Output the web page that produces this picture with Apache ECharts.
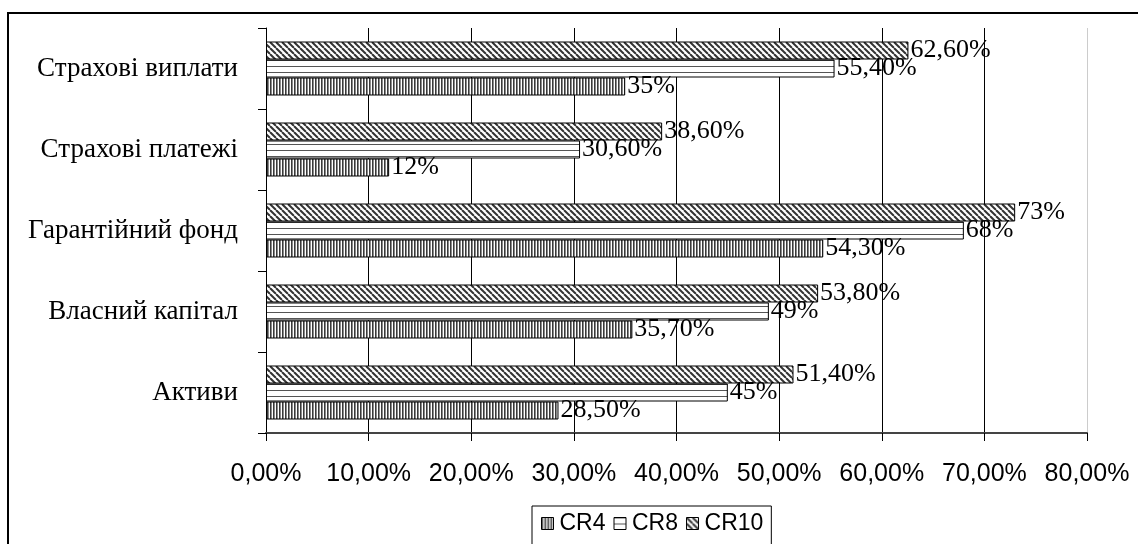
<!DOCTYPE html>
<html>
<head>
<meta charset="utf-8">
<script src="https://cdn.jsdelivr.net/npm/echarts@6/dist/echarts.min.js"></script>
<style>
  html, body { margin: 0; padding: 0; background: #fff; }
  #chart { width: 1138px; height: 544px; }
</style>
</head>
<body>
<div id="chart"></div>
<script>
// Categories, bottom to top on the category axis
const categories = ['Активи', 'Власний капітал', 'Гарантійний фонд', 'Страхові платежі', 'Страхові виплати'];
// Concentration ratios, %
const cr4 = [28.5, 35.7, 54.3, 12, 35];
const cr8 = [45, 49, 68, 30.6, 55.4];
const cr10 = [51.4, 53.8, 73, 38.6, 62.6];
const xTicks = [0, 10, 20, 30, 40, 50, 60, 70, 80];

// Hatch fills drawn on small tiles
function tile(w, h, draw) {
  const c = document.createElement('canvas');
  c.width = w; c.height = h;
  const ctx = c.getContext('2d');
  ctx.fillStyle = '#fff';
  ctx.fillRect(0, 0, w, h);
  draw(ctx);
  return c;
}
const vertHatch = tile(3, 3, ctx => {
  ctx.fillStyle = '#3a3a3a'; ctx.fillRect(0, 0, 1, 3);
  ctx.fillStyle = '#8a8a8a'; ctx.fillRect(1, 0, 1, 3);
});
const horzHatch = tile(4, 6, ctx => {
  ctx.fillStyle = '#555'; ctx.fillRect(0, 0, 4, 1);
});
const diagHatch = tile(6, 6, ctx => {
  ctx.strokeStyle = '#333'; ctx.lineWidth = 2;
  for (let k = -6; k <= 6; k += 6) {
    ctx.beginPath(); ctx.moveTo(k, 0); ctx.lineTo(k + 6, 6); ctx.stroke();
  }
});
const fill = img => ({ image: img, repeat: 'repeat' });

function pct(v) {
  return (Number.isInteger(v) ? String(v) : v.toFixed(2).replace('.', ',')) + '%';
}

function barSeries(name, data, img) {
  return {
    name, type: 'bar', data,
    barWidth: 18, barGap: '0%',
    itemStyle: { color: fill(img), borderColor: '#000', borderWidth: 1 },
    label: {
      show: true, position: 'right', distance: 2,
      fontFamily: 'Liberation Serif', fontSize: 26, color: '#000',
      formatter: p => pct(p.value)
    }
  };
}

const chart = echarts.init(document.getElementById('chart'), null, { renderer: 'canvas' });
chart.setOption({
  animation: false,
  backgroundColor: '#fff',
  grid: { left: 266, right: 51, top: 28, bottom: 111 },
  graphic: [{
    type: 'rect', silent: true, z: -1,
    shape: { x: 8, y: 13, width: 1200, height: 600 },
    style: { fill: 'none', stroke: '#000', lineWidth: 2 }
  }],
  legend: {
    data: ['CR4', 'CR8', 'CR10'],
    left: 532, top: 506,
    padding: [6, 8, 20, 9],
    borderColor: '#000', borderWidth: 1,
    icon: 'rect',
    itemWidth: 12, itemHeight: 12, itemGap: 8,
    itemStyle: { borderColor: '#000', borderWidth: 1 },
    textStyle: { fontFamily: 'Liberation Sans', fontSize: 23, color: '#000', padding: [0, 0, 0, 1] }
  },
  xAxis: {
    type: 'value', min: 0, max: 80, interval: 10,
    axisLine: { show: true, lineStyle: { color: '#444', width: 2 } },
    axisTick: { show: true, length: 8, lineStyle: { color: '#000' } },
    splitLine: { show: true, lineStyle: { color: ['#000', '#000', '#000', '#000', '#000', '#000', '#000', '#000', '#ccc'], width: 1 } },
    axisLabel: {
      margin: 29, fontFamily: 'Liberation Sans', fontSize: 25, color: '#000',
      formatter: v => v.toFixed(2).replace('.', ',') + '%'
    },
    data: xTicks
  },
  yAxis: {
    type: 'category', data: categories,
    axisLine: { show: true, lineStyle: { color: '#000', width: 1 } },
    axisTick: { show: true, length: 8, alignWithLabel: false, lineStyle: { color: '#000' } },
    axisLabel: { margin: 28, fontFamily: 'Liberation Serif', fontSize: 27, color: '#000' }
  },
  series: [
    barSeries('CR10', cr10, diagHatch),
    barSeries('CR8', cr8, horzHatch),
    barSeries('CR4', cr4, vertHatch)
  ]
});
</script>
</body>
</html>
